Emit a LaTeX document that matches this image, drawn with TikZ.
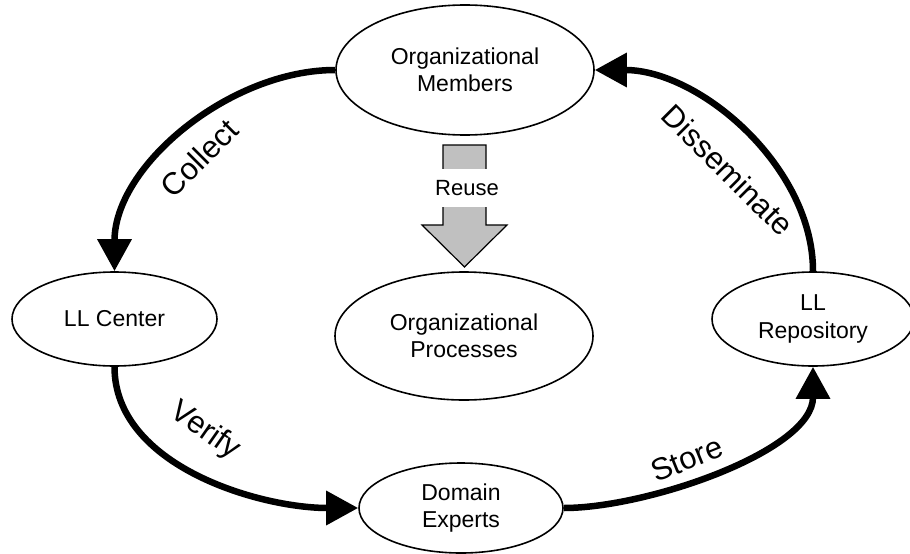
\documentclass[tikz,border=0pt]{standalone}
\usepackage{fontspec}
\setmainfont{Liberation Sans}
\usetikzlibrary{shapes.geometric,arrows.meta}
\begin{document}
\begin{tikzpicture}[x=1pt,y=-1pt,
  ell/.style={draw,ellipse,line width=1.6pt,inner sep=0pt,align=center,
    font=\fontsize{23}{27.5}\selectfont},
  flow/.style={line width=6.5pt,-{Triangle[length=32pt,width=33pt]}},
  lbl/.style={font=\fontsize{31}{33}\selectfont,inner sep=0pt}]
\useasboundingbox (0,0) rectangle (910,554);
\node[ell,minimum width=258pt,minimum height=130pt] (om) at (465,70) {Organizational\\Members};
\node[ell,minimum width=258pt,minimum height=128pt] (op) at (464,336) {Organizational\\Processes};
\node[ell,minimum width=205pt,minimum height=94pt] (llc) at (114.5,319) {LL Center};
\node[ell,minimum width=202pt,minimum height=94pt] (llr) at (813,319) {LL\\Repository};
\node[ell,minimum width=204pt,minimum height=90pt] (de) at (461,508) {Domain\\Experts};
% reuse arrow
\draw[line width=1.2pt,fill={rgb,255:red,192;green,192;blue,192}]
  (443,145) coordinate (r1) -- (486,145) -- (486,225) -- (507,225) -- (464.5,267) coordinate (rt)
  -- (422,225) -- (443,225) -- cycle;
\node[fill=white,minimum width=72pt,minimum height=38pt,inner sep=0pt,
  font=\fontsize{22}{24}\selectfont] (reuse) at (467,188) {Reuse};
% flows
\draw[flow] (om.west) to[out=180,in=90,looseness=0.9] (llc.north);
\draw[flow] (llc.south) to[out=-90,in=180,looseness=0.9] (de.west);
\draw[flow] (de.east) to[out=0,in=-90,looseness=0.75] (llr.south);
\draw[flow] (llr.north) to[out=90,in=0,looseness=0.9] (om.east);
% labels
\node[lbl,rotate=45] (lc) at (199,158) {Collect};
\node[lbl,rotate=-45] (ld) at (728,170) {Disseminate};
\node[lbl,rotate=-35] (lv) at (205,431) {Verify};
\node[lbl,rotate=22] (ls) at (687,459) {Store};
\end{tikzpicture}
\end{document}
